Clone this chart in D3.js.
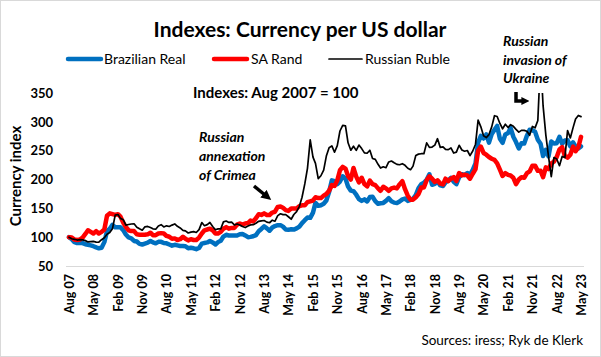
<!DOCTYPE html>
<html><head><meta charset="utf-8">
<script src="https://cdn.jsdelivr.net/npm/d3@7/dist/d3.min.js"></script>
<style>
html,body{margin:0;padding:0;background:#fff;}
svg{display:block;font-family:Lato,"Open Sans",sans-serif;}
</style></head>
<body>
<svg id="chart" width="601" height="357"></svg>
<script>
// ---- DATA (monthly, Aug 2007 - May 2023, index Aug 2007 = 100) ----
const startMonth = "2007-08";
const endMonth = "2023-05";
const brazilianReal = [
 100,96.4,91.4,89.8,90.4,
 89.8,87.8,86.8,85.8,84.3,82.2,80.7,81.7,91.4,110.2,114.7,121.3,
 117.3,117.3,117.3,112.2,104.6,99.5,98.0,93.4,92.4,88.3,87.3,88.8,
 90.4,93.4,90.9,89.3,91.9,91.9,89.8,89.3,87.3,85.3,86.8,85.8,
 84.8,84.8,84.3,80.7,81.7,80.7,79.2,81.2,88.8,89.8,90.9,93.4,
 90.9,87.3,91.4,93.9,101.0,104.1,103.0,103.0,103.0,103.0,105.1,105.6,
 103.0,100.0,100.5,101.5,103.6,110.2,114.2,118.8,115.2,111.2,116.8,119.3,
 120.8,120.8,118.3,113.2,112.7,113.7,113.2,115.2,118.3,124.4,129.4,134.0,
 133.5,142.6,159.4,154.3,155.3,157.9,163.5,178.2,198.5,197.0,191.9,196.4,
 205.6,201.5,187.8,180.7,179.7,173.6,166.0,162.9,165.5,161.9,169.5,170.1,
 162.4,157.9,158.9,159.4,162.9,167.5,162.4,159.9,159.4,161.9,165.5,167.0,
 162.9,164.5,166.5,173.1,184.8,191.9,194.4,199.5,209.1,190.9,192.4,197.0,
 189.8,188.8,194.9,198.0,203.0,195.9,191.9,204.1,209.1,207.6,211.2,208.6,
 216.8,227.9,264.0,275.6,271.1,278.2,264.0,278.7,286.3,292.9,270.6,263.5,
 278.2,280.7,289.3,274.1,265.0,253.8,262.9,262.4,276.1,286.3,285.3,282.7,
 269.0,261.9,240.6,251.3,240.1,266.0,262.4,262.9,274.1,261.9,267.5,268.0,
 257.4,264.5,257.4,253.8,257.4
];
const saRand = [
 100,99.3,95.8,95.1,95.8,
 99.3,105.6,111.9,109.1,106.3,110.5,106.3,109.1,113.3,137.1,141.3,139.9,
 138.5,139.9,135.7,125.2,117.5,111.9,110.5,110.5,104.9,104.2,104.2,104.2,
 104.9,107.7,103.5,103.5,106.3,107.0,106.3,102.1,100.7,97.2,97.9,95.1,
 96.5,100.7,97.2,94.4,96.5,95.1,95.1,99.3,106.3,111.9,113.3,114.7,
 111.9,106.3,106.3,109.1,114.7,117.5,114.7,116.1,116.1,121.7,123.8,121.7,
 123.8,124.5,128.7,127.3,132.9,139.9,138.5,141.3,138.5,138.5,142.7,144.1,
 152.4,153.1,151.0,146.9,145.5,149.7,149.7,149.7,153.8,155.2,155.2,160.8,
 162.2,163.6,169.2,167.8,167.8,172.0,174.8,180.4,190.2,188.8,198.6,216.0,
 222.0,219.0,206.0,200.0,220.0,205.0,195.0,203.0,192.0,188.0,198.0,192.0,
 190.2,184.6,180.4,187.4,184.6,180.4,184.6,186.0,184.6,191.6,197.2,183.2,
 172.0,165.0,165.0,169.2,174.8,186.0,186.0,198.6,205.6,201.4,195.8,198.6,
 193.0,191.6,201.4,197.2,201.4,204.2,197.2,211.2,207.0,208.4,207.0,201.4,
 210,218,250,257,246,243,239,236,234,228,217,206,
 211,208,207,203,192,200,204,203,211,214,224,224,
 215,215,204,221,218,228,231,239,252,256,241,238,
 243,257,249,256,274
];
const russianRuble = [
 100,97.3,96.3,95.0,95.7,
 95.4,94.0,91.7,92.2,92.6,91.5,91.2,95.6,98.9,105.1,108.0,114.5,
 138.1,139.3,132.6,130.3,120.8,122.0,122.8,123.2,117.3,114.5,112.0,117.9,
 118.6,116.8,114.5,113.7,119.5,121.6,117.7,119.7,118.5,120.9,122.9,118.8,
 116.0,111.8,110.8,107.2,108.7,109.5,108.1,113.0,125.3,119.8,121.8,125.5,
 118.4,112.9,114.3,114.4,126.5,128.0,125.5,126.0,121.2,122.9,121.1,118.4,
 116.7,119.3,121.2,121.7,124.1,127.5,128.3,128.9,126.1,125.0,129.4,127.6,
 137.4,140.5,139.1,139.0,135.4,131.1,139.3,144.2,153.5,169.2,192.3,219.3,
 268.7,238.9,227.9,201.6,206.5,216.4,240.6,255.2,258.3,247.3,258.7,284.1,
 293.9,293.0,263.6,250.8,257.7,250.5,259.8,253.6,246.2,245.5,250.7,236.5,
 234.9,226.3,219.8,222.1,220.4,230.4,232.1,229.0,226.2,225.6,227.4,224.6,
 219.5,217.0,223.2,241.7,244.0,244.7,244.8,263.5,255.7,256.3,259.6,270.8,
 255.7,256.6,252.4,251.8,254.7,245.9,247.5,259.3,251.2,249.0,250.3,241.4,
 249.4,261.2,303.0,291.3,275.8,272.7,277.9,291.2,310.6,309.2,297.2,288.0,
 295.8,290.1,295.1,292.2,286.9,282.1,285.2,285.2,283.7,276.6,292.0,289.6,
 302.2,410,328,277,240,205,238,235.5,224,240,238,285,
 272,290,305,311,309
];
const yTicks = [50,100,150,200,250,300,350];
const xTickLabels = ["Aug 07","May 08","Feb 09","Nov 09","Aug 10","May 11","Feb 12","Nov 12","Aug 13","May 14","Feb 15","Nov 15","Aug 16","May 17","Feb 18","Nov 18","Aug 19","May 20","Feb 21","Nov 21","Aug 22","May 23"];
const seriesNames = ["Brazilian Real","SA Rand","Russian Ruble"];
const seriesColors = ["#0070C0","#FF0000","#000000"];
const seriesWidths = [4.5,4.5,1.7];

// ---- LAYOUT ----
const svg = d3.select("#chart");
const W = 601, H = 357;
const plot = {left:69, right:581, top:93, bottom:266};
const parseM = d3.timeParse("%Y-%m");
const t0 = parseM(startMonth), t1 = parseM(endMonth);
const dates = d3.timeMonth.range(t0, d3.timeMonth.offset(t1,1));

const x = d3.scaleTime().domain([t0,t1]).range([plot.left, plot.right]);
const y = d3.scaleLinear().domain([50,350]).range([plot.bottom, plot.top]);

// border
svg.append("rect").attr("x",0.5).attr("y",0.5).attr("width",W-1).attr("height",H-1)
  .attr("fill","#fff").attr("stroke","#d9d9d9");

// baseline
svg.append("line").attr("x1",66).attr("x2",584).attr("y1",plot.bottom+0.5).attr("y2",plot.bottom+0.5)
  .attr("stroke","#d9d9d9").attr("stroke-width",1);

// y axis
const yAxis = d3.axisLeft(y).tickValues(yTicks).tickSize(0).tickPadding(0);
const gy = svg.append("g").attr("transform","translate(53,0)").call(yAxis);
gy.select(".domain").remove();
gy.selectAll("text").attr("font-family","Lato,sans-serif").attr("font-size","13px").attr("font-weight","bold").attr("fill","#000");

// x axis
const tickDates = xTickLabels.map((d,i)=>d3.timeMonth.offset(t0, i*9));
const xAxis = d3.axisBottom(x).tickValues(tickDates).tickSize(0).tickFormat((d,i)=>xTickLabels[i]);
const gx = svg.append("g").attr("transform",`translate(0,${plot.bottom})`).call(xAxis);
gx.select(".domain").remove();
gx.selectAll("text")
  .attr("font-family","Lato,sans-serif").attr("font-size","12.5px").attr("font-weight","bold").attr("fill","#000")
  .attr("transform","rotate(-90)").attr("text-anchor","end")
  .attr("x",-8).attr("y",0).attr("dy","0.35em");

// y title
svg.append("text").attr("transform","translate(21,176) rotate(-90)")
  .attr("text-anchor","middle").attr("font-size","15px").attr("font-weight","bold").text("Currency index");

// clip
svg.append("clipPath").attr("id","clip").append("rect")
  .attr("x",plot.left-10).attr("y",plot.top).attr("width",plot.right-plot.left+20).attr("height",plot.bottom-plot.top+10);

const line = d3.line().x((d,i)=>x(dates[i])).y(d=>y(d));
const allSeries = [brazilianReal, saRand, russianRuble];
const gl = svg.append("g").attr("clip-path","url(#clip)");
allSeries.forEach((s,k)=>{
  gl.append("path").datum(s).attr("d",line).attr("fill","none")
    .attr("stroke",seriesColors[k]).attr("stroke-width",seriesWidths[k])
    .attr("stroke-linejoin","round").attr("stroke-linecap","round");
});

// title
svg.append("text").attr("x",300).attr("y",37).attr("text-anchor","middle")
  .attr("font-size","21px").attr("font-weight","bold").text("Indexes: Currency per US dollar");

// legend
const legX = [68,214,329], legTextX=[104,251,365];
seriesNames.forEach((n,k)=>{
  svg.append("line").attr("x1",legX[k]).attr("x2",legX[k]+33).attr("y1",59).attr("y2",59)
    .attr("stroke",seriesColors[k]).attr("stroke-width",seriesWidths[k]).attr("stroke-linecap","round");
  svg.append("text").attr("x",legTextX[k]).attr("y",59).attr("dy","0.35em")
    .attr("font-size","14px").text(n);
});

// subtitle
svg.append("text").attr("x",193).attr("y",98).attr("font-size","15px").attr("font-weight","bold").text("Indexes: Aug 2007 = 100");

// annotations
const ann1 = ["Russian","annexation","of Crimea"];
ann1.forEach((t,i)=>svg.append("text").attr("x",199).attr("y",142+i*19)
  .attr("font-size","14px").attr("font-weight","bold").attr("font-style","italic").text(t));
const ann2 = ["Russian","invasion of","Ukraine"];
ann2.forEach((t,i)=>svg.append("text").attr("x",503).attr("y",46+i*18.5)
  .attr("font-size","14px").attr("font-weight","bold").attr("font-style","italic").text(t));

// arrows
const defs = svg.append("defs");
defs.append("marker").attr("id","ah").attr("viewBox","0 0 10 10").attr("refX",2).attr("refY",5)
  .attr("markerUnits","userSpaceOnUse").attr("markerWidth",10).attr("markerHeight",10).attr("orient","auto")
  .append("path").attr("d","M0,0 L10,5 L0,10 z").attr("fill","#000");
defs.append("marker").attr("id","ah2").attr("viewBox","0 0 10 10").attr("refX",2).attr("refY",5)
  .attr("markerUnits","userSpaceOnUse").attr("markerWidth",8).attr("markerHeight",8).attr("orient","auto")
  .append("path").attr("d","M0,0 L10,5 L0,10 z").attr("fill","#000");
svg.append("path").attr("d","M254,186 L265,195").attr("stroke","#000").attr("stroke-width",3.5)
  .attr("fill","none").attr("marker-end","url(#ah)");
svg.append("path").attr("d","M516,92 L516,101 L523,101").attr("stroke","#000").attr("stroke-width",3.5)
  .attr("fill","none").attr("marker-end","url(#ah2)");

// sources
svg.append("text").attr("x",583).attr("y",345).attr("text-anchor","end")
  .attr("font-size","13.5px").text("Sources: iress; Ryk de Klerk");
</script>
</body></html>
